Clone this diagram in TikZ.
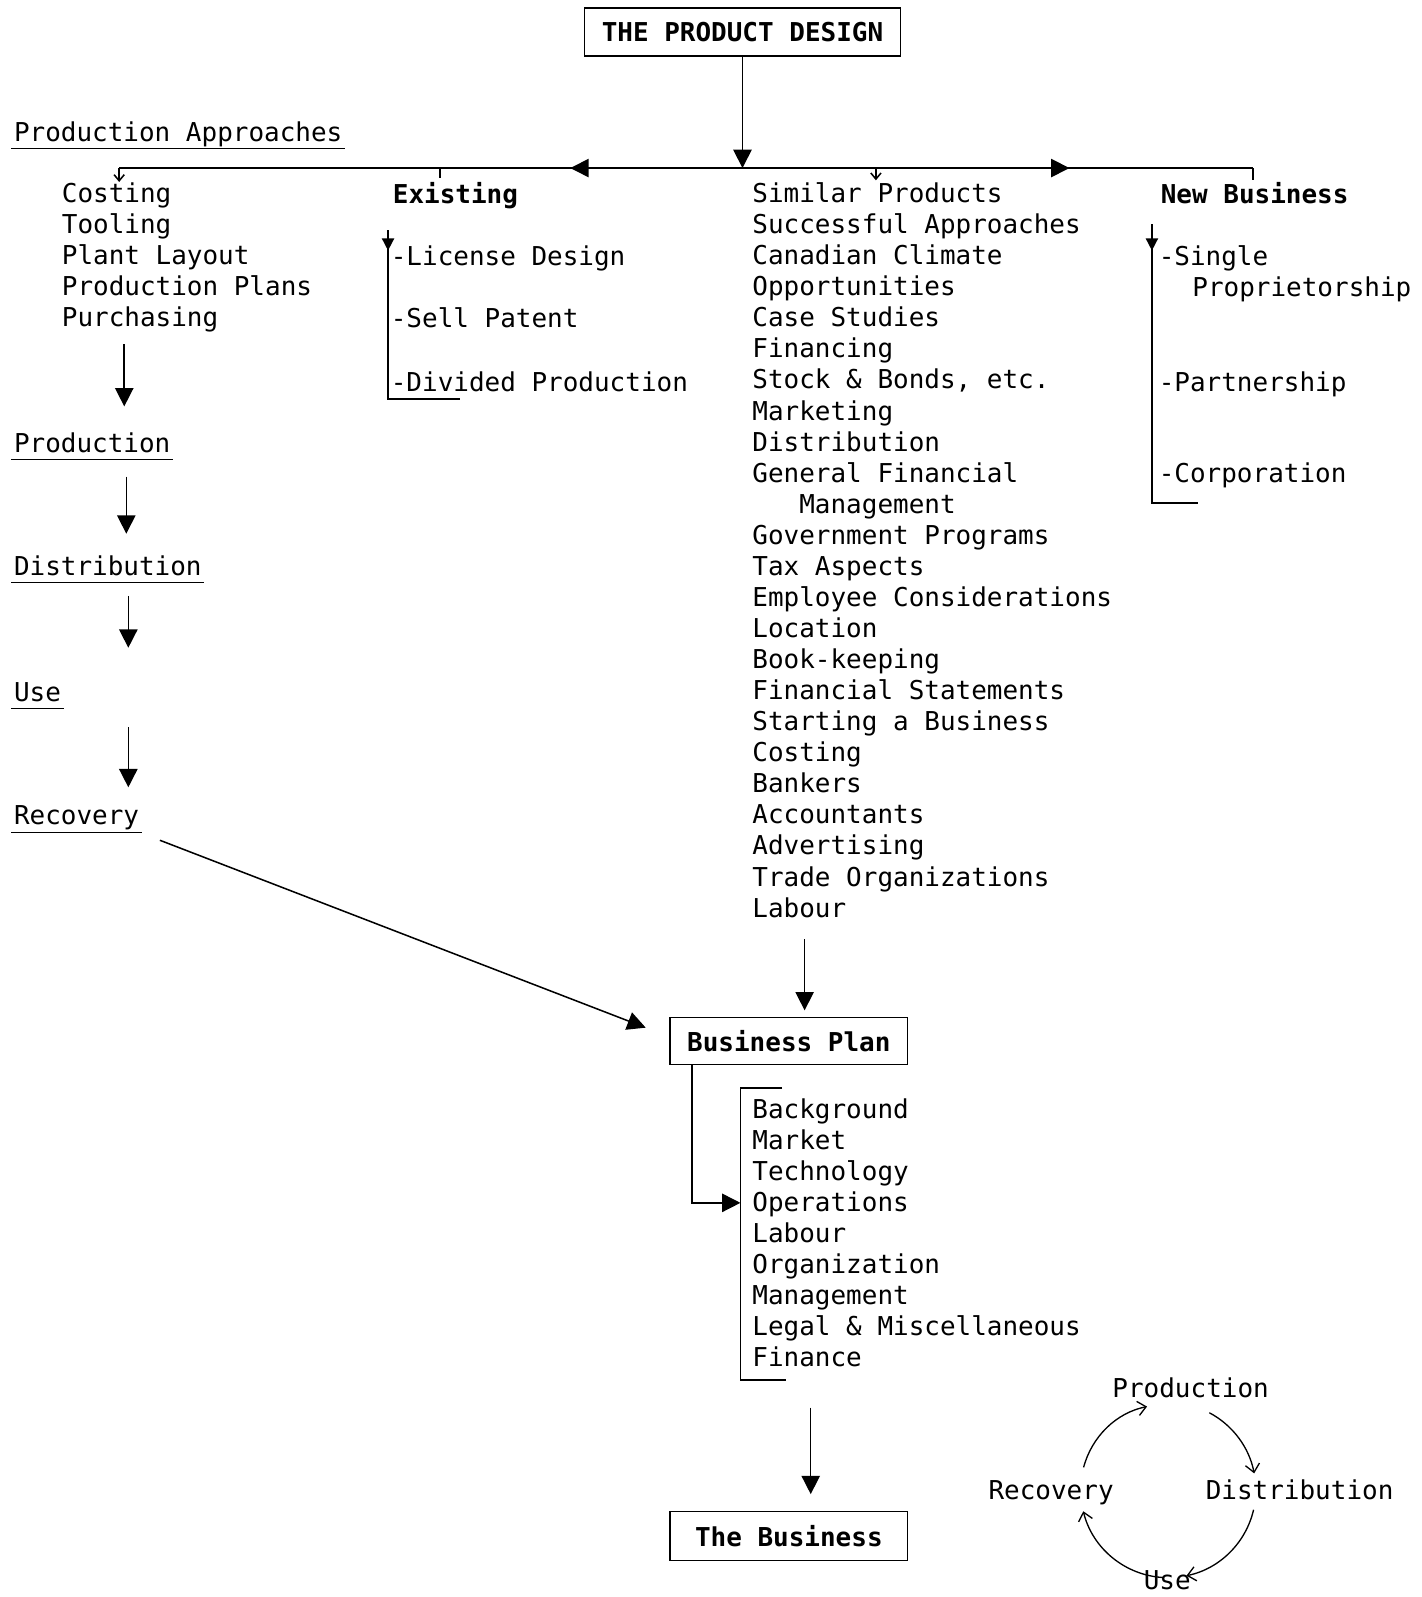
\documentclass[tikz,border=0pt]{standalone}
\usepackage{fontspec}
\usetikzlibrary{arrows.meta,calc}
\newfontfamily\twfam{DejaVu Sans Mono}
\newcommand\twf{\twfam\fontsize{25.5}{30.5}\selectfont}
\begin{document}
\begin{tikzpicture}[x=1pt,y=-1pt,
 line width=1.5pt,
 txt/.style={inner sep=0pt,anchor=base west,font=\twf},
 btxt/.style={txt,font=\twf\bfseries},
 lst/.style={inner sep=0pt,anchor=north west,align=left,font=\twf,execute at begin node=\strut},
 boxnode/.style={draw,inner sep=0pt,font=\twf\bfseries},
 big/.style={-{Triangle[length=18pt,width=18pt]}},
 sm/.style={-{Straight Barb[length=6pt,width=10pt]}},
 brk/.style={-{Triangle[length=12pt,width=12pt]}},
 cyc/.style={-{Straight Barb[length=8pt,width=14pt]},line width=1.3pt},
 ul/.style={line width=1.2pt}
]
\useasboundingbox (0,0) rectangle (1396,1568);

% top
\node[boxnode,minimum width=310pt,minimum height=47pt] (pd) at (729,31.5) {THE PRODUCT DESIGN};

% bus
\coordinate (bL) at (117,165);
\coordinate (bR) at (1230,165);
\draw (bL) -- (bR);
\draw[big] (pd.south) -- (pd.south |- bL);
\draw[big] (610,165) -- (560,165);
\draw[big] (1000,165) -- (1050,165);

% left column
\node[txt] (pa) at (13,139) {Production Approaches};
\node[lst] (cost) at (60,178.65) {Costing\\Tooling\\Plant Layout\\Production Plans\\Purchasing};
\node[txt] (prod) at (13,444) {Production};
\node[txt] (dist) at (13,565) {Distribution};
\node[txt] (use) at (13,689) {Use};
\node[txt] (rec) at (13,810) {Recovery};
\foreach \n in {pa,prod,dist,use,rec}{
  \draw[ul] ($(\n.base west)+(-2,7)$) -- ($(\n.base east)+(2,7)$);
}
\draw[sm] (bL) -- (bL |- cost.north);
\coordinate (a1s) at (122,338); \coordinate (a1e) at (122,399);
\coordinate (a2s) at (124,468); \coordinate (a2e) at (124,524);
\coordinate (a3s) at (126,585); \coordinate (a3e) at (126,636);
\coordinate (a4s) at (126,714); \coordinate (a4e) at (126,773);
\coordinate (a5s) at (157,825); \coordinate (a5e) at (634,1009);
\draw[big] (a1s) -- (a1e);
\draw[big] (a2s) -- (a2e);
\draw[big] (a3s) -- (a3e);
\draw[big] (a4s) -- (a4e);
\draw[big] (a5s) -- (a5e);

% existing
\node[btxt] (ex) at (385,200) {Existing};
\draw (432,165) -- (432,175);
\node[txt] (ex1) at (383,261) {-License Design};
\node[txt] (ex2) at (383,322) {-Sell Patent};
\node[txt] (ex3) at (383,384) {-Divided Production};
\draw[brk] (381,226) -- (381,246);
\draw (381,238) -- (381,392) -- (452,392);

% middle list
\draw[sm] (860,165) -- (860,177);
\node[lst] (sim) at (738,178.65) {Similar Products\\Successful Approaches\\Canadian Climate\\Opportunities\\Case Studies\\Financing\\Stock \& Bonds, etc.\\Marketing\\Distribution\\General Financial\\\hphantom{Gen}Management\\Government Programs\\Tax Aspects\\Employee Considerations\\Location\\Book-keeping\\Financial Statements\\Starting a Business\\Costing\\Bankers\\Accountants\\Advertising\\Trade Organizations\\Labour};

% new business
\draw (bR) -- (1230,177);
\node[btxt] (nb) at (1139,200) {New Business};
\node[txt] (nb1) at (1137,261) {-Single};
\node[txt] (nb1b) at (1170,291) {Proprietorship};
\node[txt] (nb2) at (1137,384) {-Partnership};
\node[txt] (nb3) at (1137,474) {-Corporation};
\draw[brk] (1131,220) -- (1131,246);
\draw (1131,238) -- (1131,494) -- (1176,494);

% business plan
\coordinate (m1s) at (790,922);
\draw[big] (m1s) -- (m1s |- 0,992);
\node[boxnode,minimum width=233pt,minimum height=46pt] (bp) at (774.5,1022) {Business Plan};
\node[lst] (bpl) at (738,1077.65) {Background\\Market\\Technology\\Operations\\Labour\\Organization\\Management\\Legal \& Miscellaneous\\Finance};
\draw (768,1068) -- (727,1068) -- (727,1355) -- (772,1355);
\coordinate (opk) at (727,1181);
\draw[big] ([xshift=22pt]bp.south west) |- (opk);

% the business
\coordinate (m2s) at (796,1382);
\draw[big] (m2s) -- (m2s |- 0,1467);
\node[boxnode,minimum width=233pt,minimum height=48pt] (tb) at (774.5,1508) {The Business};

% cycle
\node[txt,anchor=base] (cP) at (1169,1372) {Production};
\node[txt,anchor=base] (cD) at (1276,1472) {Distribution};
\node[txt,anchor=base] (cU) at (1146,1561) {Use};
\node[txt,anchor=base] (cR) at (1032,1472) {Recovery};
\coordinate (c1a) at (1063.9,1440.7); \coordinate (c1b) at (1126.2,1381);
\coordinate (c2a) at (1187.4,1387.1); \coordinate (c2b) at (1231.4,1446.6);
\coordinate (c3a) at (1230.8,1482.3); \coordinate (c3b) at (1164.9,1547.1);
\coordinate (c4a) at (1142.5,1548.9); \coordinate (c4b) at (1063.6,1483.8);
\draw[cyc] (c1a) .. controls (1072.0,1410.5) and (1095.8,1387.2) .. (c1b);
\draw[cyc] (c2a) .. controls (1210.3,1399.2) and (1226.5,1421.2) .. (c2b);
\draw[cyc] (c3a) .. controls (1223.3,1514.8) and (1197.6,1540.2) .. (c3b);
\draw[cyc] (c4a) .. controls (1104.8,1546.9) and (1072.7,1520.5) .. (c4b);
\end{tikzpicture}
\end{document}
